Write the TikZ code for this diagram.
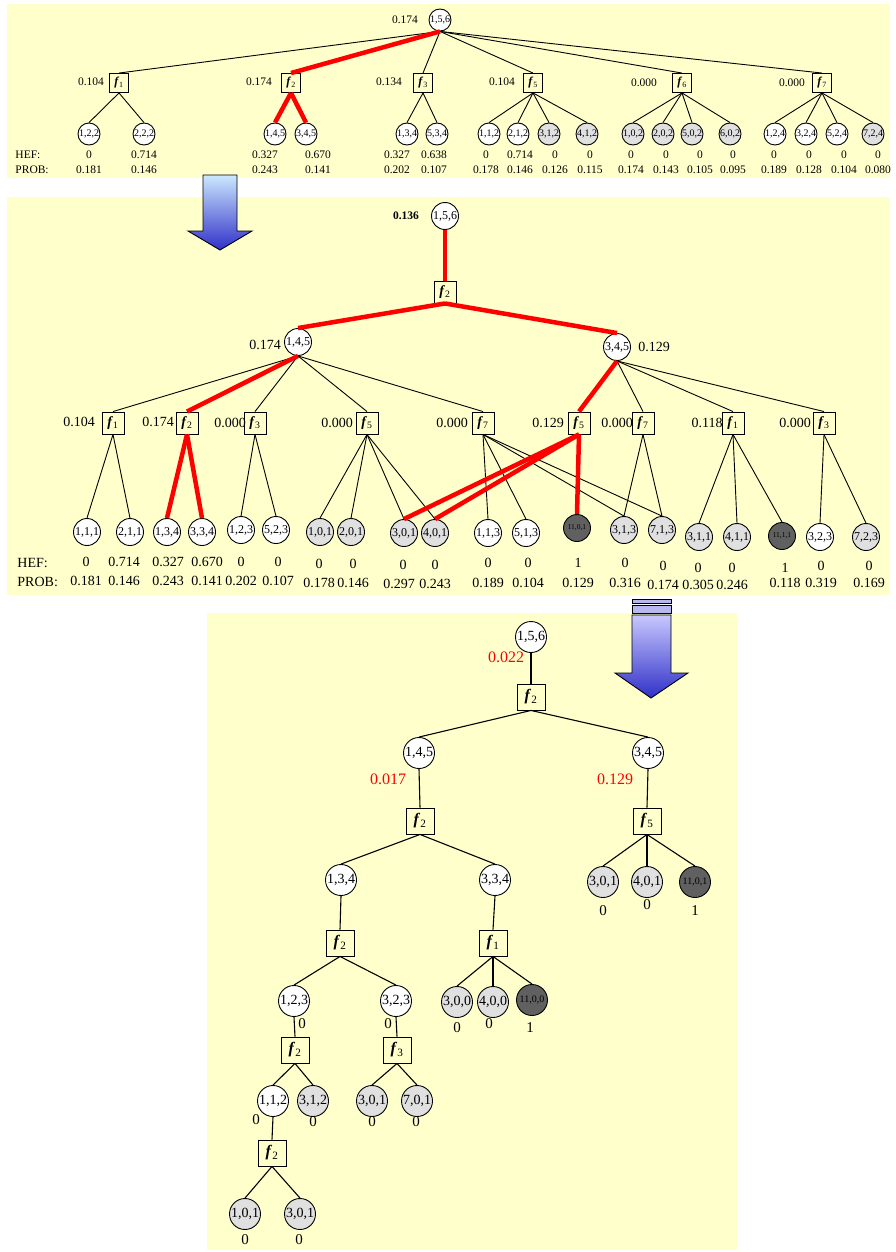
\documentclass[tikz,border=0pt]{standalone}
\usepackage{fontspec}
\setmainfont{Liberation Serif}
\definecolor{fond}{RGB}{255,255,204}
\definecolor{grisclair}{RGB}{224,224,224}
\definecolor{grisfonce}{RGB}{96,96,96}
\definecolor{bleuclair}{RGB}{204,232,255}
\definecolor{bleufonce}{RGB}{48,48,200}
\definecolor{mauve}{RGB}{200,200,255}
\definecolor{barre}{RGB}{184,184,240}
\newcommand{\facf}[1]{\textbf{\textit{f}}\textsubscript{#1}}

\begin{document}
\begin{tikzpicture}[x=1pt,y=-1pt,line width=0.9pt]
\tikzset{noeud/.style={draw, circle, inner sep=0pt, fill=white},
  gris/.style={fill=grisclair}, sombre/.style={fill=grisfonce},
  facteur/.style={draw, rectangle, inner sep=0pt, fill=fond},
  tn/.style={noeud, minimum size=22pt, font=\fontsize{10}{10}\selectfont},
  mn/.style={noeud, minimum size=27pt, font=\fontsize{12}{12}\selectfont},
  bn/.style={noeud, minimum size=31pt, font=\fontsize{14}{14}\selectfont},
  tf/.style={facteur, minimum size=19pt, font=\fontsize{12}{12}\selectfont},
  mf/.style={facteur, minimum size=22pt, font=\fontsize{14}{14}\selectfont},
  bfac/.style={facteur, minimum width=28pt, minimum height=26pt, font=\fontsize{16}{16}\selectfont},
  tv/.style={inner sep=0pt, font=\fontsize{11.5}{11.5}\selectfont},
  mv/.style={inner sep=0pt, font=\fontsize{14}{14}\selectfont},
  bv/.style={inner sep=0pt, font=\fontsize{15}{15}\selectfont},
  rv/.style={inner sep=0pt, red, font=\fontsize{16}{16}\selectfont},
  rouge/.style={red, line width=4.5pt}}
\useasboundingbox (0,0) rectangle (896,1252);
% fonds des trois panneaux
\fill[fond] (7,4) rectangle (890,178);
\fill[fond] (7,197) rectangle (890,595);
\fill[fond] (207,613) rectangle (737,1250);
% fleches
\shade[top color=bleuclair, bottom color=bleufonce, draw=black] (203,175) -- (237,175) -- (237,231) -- (252,231) -- (220,250) -- (188,231) -- (203,231) -- cycle;
\draw[fill=barre] (632,599) rectangle (671,603);
\draw[fill=barre] (632,605) rectangle (671,613);
\shade[top color=mauve, bottom color=bleufonce, draw=black] (632,615) -- (671,615) -- (671,673) -- (688,673) -- (651,698) -- (615,673) -- (632,673) -- cycle;

% ---- panneau du haut
\node[tn] (T156) at (440,20) {1,5,6};
\node[tv] (vT156) at (405,20) {0.174};
\node[tf] (Tf1) at (119,83) {\facf{1}};
\node[tf] (Tf2) at (291,83) {\facf{2}};
\node[tf] (Tf3) at (423,83) {\facf{3}};
\node[tf] (Tf5) at (533,83) {\facf{5}};
\node[tf] (Tf6) at (682,83) {\facf{6}};
\node[tf] (Tf7) at (822,83) {\facf{7}};
\node[tv] (vTf1) at (91,82) {0.104};
\node[tv] (vTf2) at (259,82) {0.174};
\node[tv] (vTf3) at (389,82) {0.134};
\node[tv] (vTf5) at (502,82) {0.104};
\node[tv] (vTf6) at (644,83) {0.000};
\node[tv] (vTf7) at (792,83) {0.000};
\node[tn] (T122) at (89,134) {1,2,2};
\node[tn] (T222) at (144,134) {2,2,2};
\node[tn] (T145) at (275,134) {1,4,5};
\node[tn] (T345) at (306,134) {3,4,5};
\node[tn] (T134) at (407,134) {1,3,4};
\node[tn] (T534) at (437,134) {5,3,4};
\node[tn] (T112) at (489,134) {1,1,2};
\node[tn] (T212) at (518,134) {2,1,2};
\node[tn,gris] (T312) at (549,134) {3,1,2};
\node[tn,gris] (T412) at (587,134) {4,1,2};
\node[tn,gris] (T102) at (633,134) {1,0,2};
\node[tn,gris] (T202) at (663,134) {2,0,2};
\node[tn,gris] (T502) at (692,134) {5,0,2};
\node[tn,gris] (T602) at (730,134) {6,0,2};
\node[tn] (T124) at (775,134) {1,2,4};
\node[tn] (T324) at (806,134) {3,2,4};
\node[tn] (T524) at (837,134) {5,2,4};
\node[tn,gris] (T724) at (873,134) {7,2,4};
\node[tv,anchor=west] (hefT) at (15,155) {HEF:};
\node[tv,anchor=west] (probT) at (15,170) {PROB:};
\node[tv] (hT122) at (89,155) {0};
\node[tv] (pT122) at (89,170) {0.181};
\node[tv] (hT222) at (144,155) {0.714};
\node[tv] (pT222) at (144,170) {0.146};
\node[tv] (hT145) at (265,155) {0.327};
\node[tv] (pT145) at (265,170) {0.243};
\node[tv] (hT345) at (318,155) {0.670};
\node[tv] (pT345) at (318,170) {0.141};
\node[tv] (hT134) at (397,155) {0.327};
\node[tv] (pT134) at (397,170) {0.202};
\node[tv] (hT534) at (434,155) {0.638};
\node[tv] (pT534) at (434,170) {0.107};
\node[tv] (hT112) at (486,155) {0};
\node[tv] (pT112) at (486,170) {0.178};
\node[tv] (hT212) at (520,155) {0.714};
\node[tv] (pT212) at (520,170) {0.146};
\node[tv] (hT312) at (555,155) {0};
\node[tv] (pT312) at (555,170) {0.126};
\node[tv] (hT412) at (590,155) {0};
\node[tv] (pT412) at (590,170) {0.115};
\node[tv] (hT102) at (631,155) {0};
\node[tv] (pT102) at (631,170) {0.174};
\node[tv] (hT202) at (666,155) {0};
\node[tv] (pT202) at (666,170) {0.143};
\node[tv] (hT502) at (700,155) {0};
\node[tv] (pT502) at (700,170) {0.105};
\node[tv] (hT602) at (733,155) {0};
\node[tv] (pT602) at (733,170) {0.095};
\node[tv] (hT124) at (774,155) {0};
\node[tv] (pT124) at (774,170) {0.189};
\node[tv] (hT324) at (809,155) {0};
\node[tv] (pT324) at (809,170) {0.128};
\node[tv] (hT524) at (844,155) {0};
\node[tv] (pT524) at (844,170) {0.104};
\node[tv] (hT724) at (878,155) {0};
\node[tv] (pT724) at (878,170) {0.080};
\draw (T156.south) -- (Tf1.north);
\draw (T156.south) -- (Tf3.north);
\draw (T156.south) -- (Tf5.north);
\draw (T156.south) -- (Tf6.north);
\draw (T156.south) -- (Tf7.north);
\draw (Tf1.south) -- (T122.north);
\draw (Tf1.south) -- (T222.north);
\draw (Tf3.south) -- (T134.north);
\draw (Tf3.south) -- (T534.north);
\draw (Tf5.south) -- (T112.north);
\draw (Tf5.south) -- (T212.north);
\draw (Tf5.south) -- (T312.north);
\draw (Tf5.south) -- (T412.north);
\draw (Tf6.south) -- (T102.north);
\draw (Tf6.south) -- (T202.north);
\draw (Tf6.south) -- (T502.north);
\draw (Tf6.south) -- (T602.north);
\draw (Tf7.south) -- (T124.north);
\draw (Tf7.south) -- (T324.north);
\draw (Tf7.south) -- (T524.north);
\draw (Tf7.south) -- (T724.north);
\draw[rouge] (T156.south) -- (Tf2.north);
\draw[rouge] (Tf2.south) -- (T145.north);
\draw[rouge] (Tf2.south) -- (T345.north);

% ---- panneau du milieu
\node[mn] (M156) at (445,216) {1,5,6};
\node[tv] (vM156) at (406,216) {\textbf{0.136}};
\node[mf] (Mf) at (445,292) {\facf{2}};
\node[mn] (M145) at (298,342) {1,4,5};
\node[mv] (vM145) at (265,345) {0.174};
\node[mn] (M345) at (617,347) {3,4,5};
\node[mv] (vM345) at (654,347) {0.129};
\node[mf] (Mf1) at (113,423) {\facf{1}};
\node[mf] (Mf2) at (187,423) {\facf{2}};
\node[mf] (Mf3) at (255,423) {\facf{3}};
\node[mf] (Mf5) at (367,423) {\facf{5}};
\node[mf] (Mf7) at (483,423) {\facf{7}};
\node[mf] (Mg5) at (579,423) {\facf{5}};
\node[mf] (Mg7) at (643,423) {\facf{7}};
\node[mf] (Mg1) at (733,423) {\facf{1}};
\node[mf] (Mg3) at (824,423) {\facf{3}};
\node[mv] (vMf1) at (79,422) {0.104};
\node[mv] (vMf2) at (158,422) {0.174};
\node[mv] (vMf3) at (230,423) {0.000};
\node[mv] (vMf5) at (337,423) {0.000};
\node[mv] (vMf7) at (452,423) {0.000};
\node[mv] (vMg5) at (548,423) {0.129};
\node[mv] (vMg7) at (617,423) {0.000};
\node[mv] (vMg1) at (707,423) {0.118};
\node[mv] (vMg3) at (795,423) {0.000};
\node[mn] (M111) at (87,532) {1,1,1};
\node[mn] (M211) at (130,532) {2,1,1};
\node[mn] (M134) at (167,532) {1,3,4};
\node[mn] (M334) at (202,532) {3,3,4};
\node[mn] (M123) at (241,530) {1,2,3};
\node[mn] (M523) at (276,530) {5,2,3};
\node[mn,gris] (M101) at (320,532) {1,0,1};
\node[mn,gris] (M201) at (351,532) {2,0,1};
\node[mn,gris] (M301) at (404,533) {3,0,1};
\node[mn,gris] (M401) at (435,533) {4,0,1};
\node[mn] (M113) at (488,533) {1,1,3};
\node[mn] (M513) at (526,533) {5,1,3};
\node[mn,sombre,font=\fontsize{7.5}{7.5}\selectfont] (M1101) at (577,528) {11,0,1};
\node[mn,gris] (M313) at (624,530) {3,1,3};
\node[mn,gris] (M713) at (662,530) {7,1,3};
\node[mn,gris] (M311) at (699,537) {3,1,1};
\node[mn,gris] (M411) at (737,537) {4,1,1};
\node[mn,sombre,font=\fontsize{7.5}{7.5}\selectfont] (M1111) at (782,536) {11,1,1};
\node[mn] (M323) at (820,537) {3,2,3};
\node[mn,gris] (M723) at (866,537) {7,2,3};
\node[mv,anchor=west] (hefM) at (17,563) {HEF:};
\node[mv,anchor=west] (probM) at (17,582) {PROB:};
\node[mv] (hM111) at (86,562) {0};
\node[mv] (pM111) at (86,581) {0.181};
\node[mv] (hM211) at (124,562) {0.714};
\node[mv] (pM211) at (124,581) {0.146};
\node[mv] (hM134) at (168,562) {0.327};
\node[mv] (pM134) at (168,581) {0.243};
\node[mv] (hM334) at (207,562) {0.670};
\node[mv] (pM334) at (207,581) {0.141};
\node[mv] (hM123) at (241,562) {0};
\node[mv] (pM123) at (241,581) {0.202};
\node[mv] (hM523) at (278,562) {0};
\node[mv] (pM523) at (278,581) {0.107};
\node[mv] (hM101) at (319,564) {0};
\node[mv] (pM101) at (319,583) {0.178};
\node[mv] (hM201) at (353,564) {0};
\node[mv] (pM201) at (353,583) {0.146};
\node[mv] (hM301) at (403,565) {0};
\node[mv] (pM301) at (399,584) {0.297};
\node[mv] (hM401) at (435,565) {0};
\node[mv] (pM401) at (435,584) {0.243};
\node[mv] (hM113) at (488,563) {0};
\node[mv] (pM113) at (488,583) {0.189};
\node[mv] (hM513) at (528,563) {0};
\node[mv] (pM513) at (528,583) {0.104};
\node[mv] (hM1101) at (578,563) {1};
\node[mv] (pM1101) at (578,583) {0.129};
\node[mv] (hM313) at (625,563) {0};
\node[mv] (pM313) at (625,583) {0.316};
\node[mv] (hM713) at (663,566) {0};
\node[mv] (pM713) at (663,585) {0.174};
\node[mv] (hM311) at (698,568) {0};
\node[mv] (pM311) at (698,585) {0.305};
\node[mv] (hM411) at (732,568) {0};
\node[mv] (pM411) at (732,585) {0.246};
\node[mv] (hM1111) at (785,568) {1};
\node[mv] (pM1111) at (785,583) {0.118};
\node[mv] (hM323) at (821,566) {0};
\node[mv] (pM323) at (821,583) {0.319};
\node[mv] (hM723) at (869,566) {0};
\node[mv] (pM723) at (869,583) {0.169};
\draw (M145.south) -- (Mf1.north);
\draw (M145.south) -- (Mf3.north);
\draw (M145.south) -- (Mf5.north);
\draw (M145.south) -- (Mf7.north);
\draw (M345.south) -- (Mg7.north);
\draw (M345.south) -- (Mg1.north);
\draw (M345.south) -- (Mg3.north);
\draw (Mf1.south) -- (M111.north);
\draw (Mf1.south) -- (M211.north);
\draw (Mf3.south) -- (M123.north);
\draw (Mf3.south) -- (M523.north);
\draw (Mf5.south) -- (M101.north);
\draw (Mf5.south) -- (M201.north);
\draw (Mf5.south) -- (M301.north);
\draw (Mf5.south) -- (M401.north);
\draw (Mf7.south) -- (M113.north);
\draw (Mf7.south) -- (M513.north);
\draw (Mf7.south) -- (M313.north);
\draw (Mf7.south) -- (M713.north);
\draw (Mg7.south) -- (M313.north);
\draw (Mg7.south) -- (M713.north);
\draw (Mg1.south) -- (M311.north);
\draw (Mg1.south) -- (M411.north);
\draw (Mg1.south) -- (M1111.north);
\draw (Mg3.south) -- (M323.north);
\draw (Mg3.south) -- (M723.north);
\draw[rouge] (M156.south) -- (Mf.north);
\draw[rouge] (Mf.south) -- (M145.north);
\draw[rouge] (Mf.south) -- (M345.north);
\draw[rouge] (M145.south) -- (Mf2.north);
\draw[rouge] (M345.south) -- (Mg5.north);
\draw[rouge] (Mf2.south) -- (M134.north);
\draw[rouge] (Mf2.south) -- (M334.north);
\draw[rouge] (Mg5.south) -- (M301.north);
\draw[rouge] (Mg5.south) -- (M401.north);
\draw[rouge] (Mg5.south) -- (M1101.north);

% ---- panneau du bas
\node[bn] (B156) at (531,637) {1,5,6};
\node[rv] (vB156) at (506,657) {0.022};
\node[bfac] (Bf) at (531,697) {\facf{2}};
\node[bn] (B145) at (419,753) {1,4,5};
\node[rv] (vB145) at (388,779) {0.017};
\node[bn] (B345) at (648,753) {3,4,5};
\node[rv] (vB345) at (615,779) {0.129};
\node[bfac] (Bf2) at (420,821) {\facf{2}};
\node[bfac] (Bf5) at (647,821) {\facf{5}};
\node[bn] (B134) at (341,880) {1,3,4};
\node[bn] (B334) at (495,880) {3,3,4};
\node[bn,gris] (B301) at (603,882) {3,0,1};
\node[bn,gris] (B401) at (647,882) {4,0,1};
\node[bn,sombre,font=\fontsize{10}{10}\selectfont] (B1101) at (695,882) {11,0,1};
\node[bv] (vB301) at (603,911) {0};
\node[bv] (vB401) at (647,905) {0};
\node[bv] (vB1101) at (695,911) {1};
\node[bfac] (Bf2c) at (340,943) {\facf{2}};
\node[bfac] (Bf1) at (493,943) {\facf{1}};
\node[bn] (B123) at (294,1001) {1,2,3};
\node[bv] (vB123) at (302,1024) {0};
\node[bn] (B323) at (396,1001) {3,2,3};
\node[bv] (vB323) at (388,1024) {0};
\node[bn,gris] (B300) at (457,1002) {3,0,0};
\node[bv] (vB300) at (457,1028) {0};
\node[bn,gris] (B400) at (493,1002) {4,0,0};
\node[bv] (vB400) at (489,1024) {0};
\node[bn,sombre,font=\fontsize{10}{10}\selectfont] (B1100) at (532,1000) {11,0,0};
\node[bv] (vB1100) at (530,1028) {1};
\node[bfac] (Bf2d) at (295,1050) {\facf{2}};
\node[bfac] (Bf3) at (397,1050) {\facf{3}};
\node[bn] (B112) at (273,1101) {1,1,2};
\node[bv] (vB112) at (256,1120) {0};
\node[bn,gris] (B312) at (313,1101) {3,1,2};
\node[bv] (vB312) at (313,1122) {0};
\node[bn,gris] (B301b) at (372,1101) {3,0,1};
\node[bv] (vB301b) at (372,1122) {0};
\node[bn,gris] (B701) at (417,1101) {7,0,1};
\node[bv] (vB701) at (416,1122) {0};
\node[bfac] (Bf2e) at (272,1153) {\facf{2}};
\node[bn,gris] (B101) at (245,1214) {1,0,1};
\node[bv] (vB101) at (245,1240) {0};
\node[bn,gris] (B301c) at (300,1214) {3,0,1};
\node[bv] (vB301c) at (299,1240) {0};
\begin{scope}[line width=1.1pt]
\draw (B156.south) -- (Bf.north);
\draw (Bf.south) -- (B145.north);
\draw (Bf.south) -- (B345.north);
\draw (B145.south) -- (Bf2.north);
\draw (B345.south) -- (Bf5.north);
\draw (Bf2.south) -- (B134.north);
\draw (Bf2.south) -- (B334.north);
\draw (Bf5.south) -- (B301.north);
\draw (Bf5.south) -- (B401.north);
\draw (Bf5.south) -- (B1101.north);
\draw (B134.south) -- (Bf2c.north);
\draw (B334.south) -- (Bf1.north);
\draw (Bf2c.south) -- (B123.north);
\draw (Bf2c.south) -- (B323.north);
\draw (Bf1.south) -- (B300.north);
\draw (Bf1.south) -- (B400.north);
\draw (Bf1.south) -- (B1100.north);
\draw (B123.south) -- (Bf2d.north);
\draw (B323.south) -- (Bf3.north);
\draw (Bf2d.south) -- (B112.north);
\draw (Bf2d.south) -- (B312.north);
\draw (Bf3.south) -- (B301b.north);
\draw (Bf3.south) -- (B701.north);
\draw (B112.south) -- (Bf2e.north);
\draw (Bf2e.south) -- (B101.north);
\draw (Bf2e.south) -- (B301c.north);
\end{scope}
\end{tikzpicture}
\end{document}
